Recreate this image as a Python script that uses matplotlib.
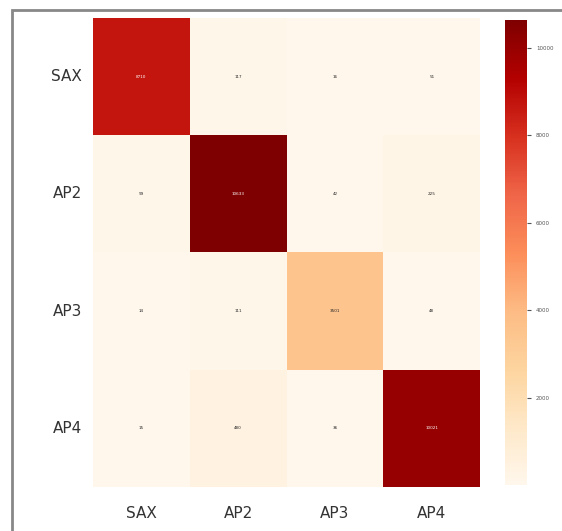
import numpy as np
import matplotlib
matplotlib.use("Agg")
import matplotlib.pyplot as plt
import seaborn as sns
from matplotlib.patches import Rectangle

# class labels and confusion counts (approx.)
labels = ["SAX", "AP2", "AP3", "AP4"]
row_sax = [8710, 117, 16, 51]
row_ap2 = [99, 10633, 42, 225]
row_ap3 = [14, 111, 3501, 48]
row_ap4 = [15, 480, 36, 10021]
cbar_ticks = [2000, 4000, 6000, 8000, 10000]

cm = np.array([row_sax, row_ap2, row_ap3, row_ap4])

fig = plt.figure(figsize=(5.62, 5.31), dpi=100)
ax = fig.add_axes([0.1655, 0.083, 0.689, 0.883])
cax = fig.add_axes([0.8986, 0.0866, 0.039, 0.876])

sns.heatmap(cm, ax=ax, cbar_ax=cax, cmap="OrRd", annot=True, fmt="d",
            annot_kws={"size": 3}, xticklabels=labels, yticklabels=labels)

ax.tick_params(axis="both", length=0, labelsize=11, colors="#333333")
ax.tick_params(axis="x", pad=14)
ax.tick_params(axis="y", pad=8, rotation=0)

cax.set_yticks(cbar_ticks)
cax.tick_params(labelsize=4, length=3, colors="#555555")

# grey frame of the screenshot
fig.patches.append(Rectangle((12 / 562, -0.05), 1.2, 1 - 10 / 531 + 0.05,
                             transform=fig.transFigure, fill=False,
                             edgecolor="#888888", linewidth=2))

fig.savefig("out.png", dpi=100)
